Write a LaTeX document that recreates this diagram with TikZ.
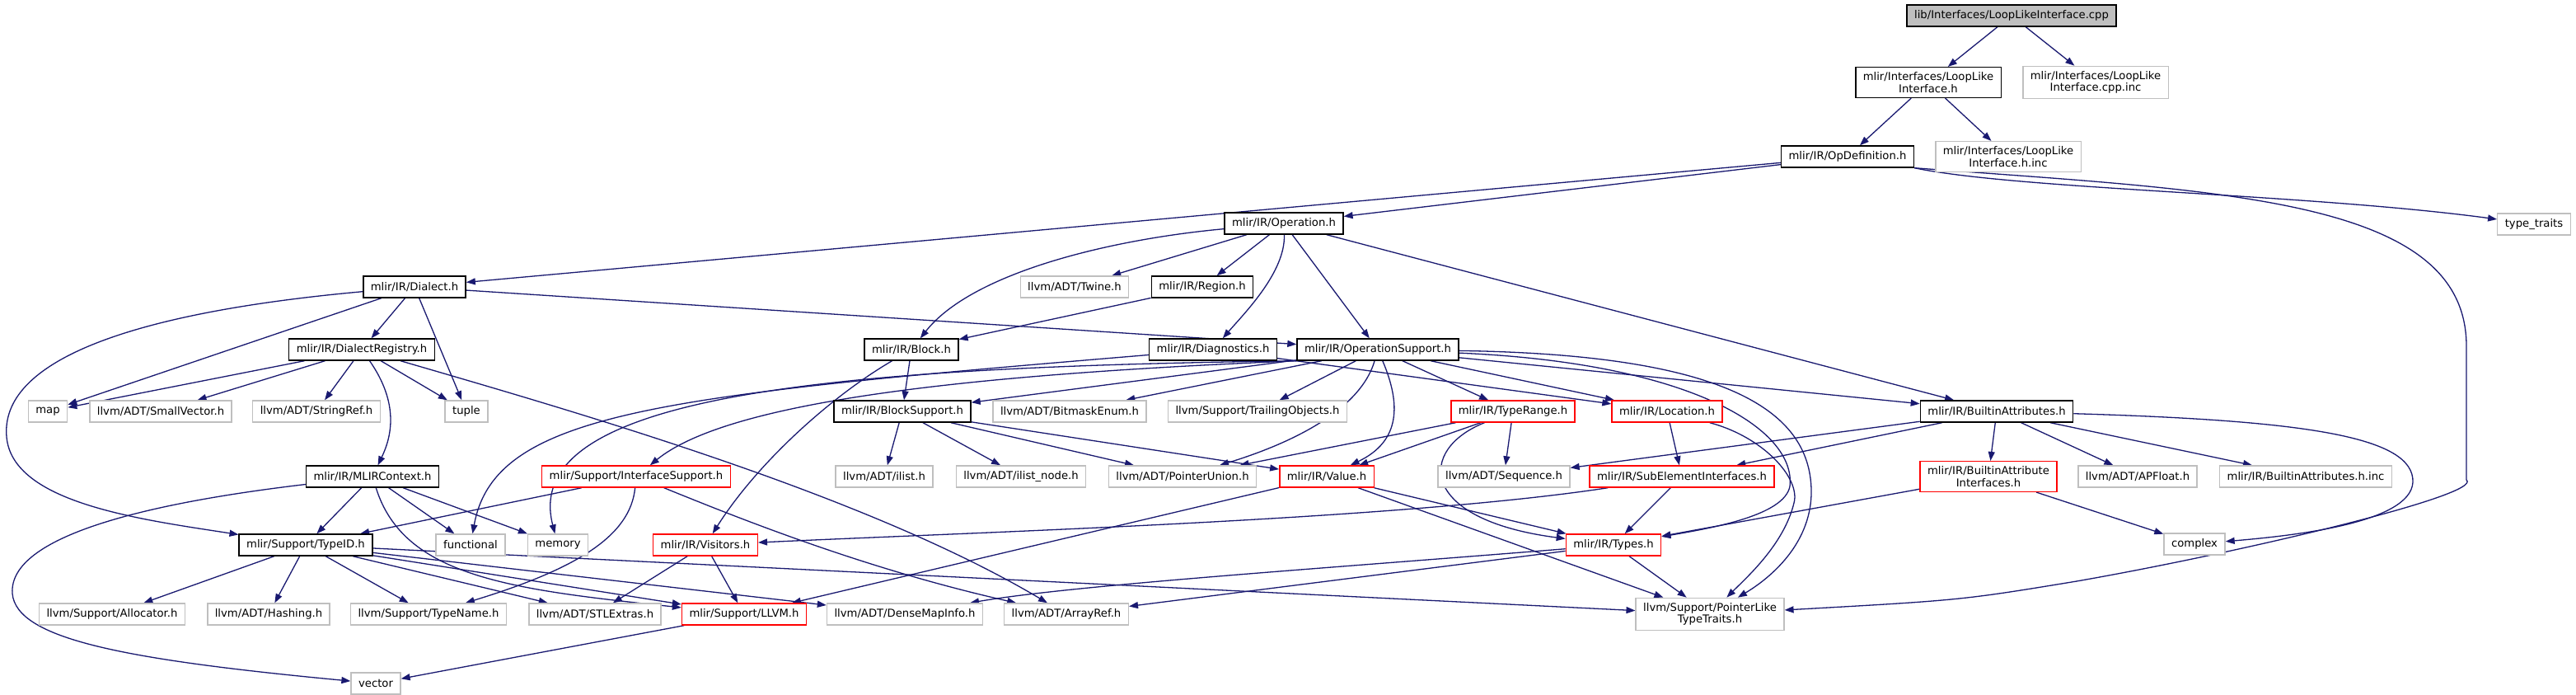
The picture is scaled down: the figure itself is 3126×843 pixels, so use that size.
\documentclass[tikz,border=0pt]{standalone}
\usepackage{fontspec}
\setmainfont{DejaVu Sans}
\usetikzlibrary{arrows.meta, positioning, backgrounds}
\definecolor{edgeblue}{HTML}{191970}
\definecolor{extgrey}{HTML}{BFBFBF}
\definecolor{rootfill}{HTML}{BFBFBF}
\definecolor{cutred}{HTML}{FF0000}
\newcommand{\filefont}{\fontsize{13.2pt}{14.5pt}\selectfont}

\begin{document}
\begin{tikzpicture}[x=1pt, y=-1pt,
  filebox/.style={rectangle, fill=white, line width=1.4pt, inner xsep=9pt, inner ysep=6pt,
        minimum height=26pt, align=center, font=\filefont},
  docfile/.style={filebox, draw=black},
  extfile/.style={filebox, draw=extgrey},
  cutfile/.style={filebox, draw=cutred},
  rootfile/.style={filebox, draw=black, fill=rootfill},
  incl/.style={draw=edgeblue, line width=1.3pt, -{Triangle[length=11pt,width=8pt]}}]
  \useasboundingbox (0,0) rectangle (3126,843);

  \node[rootfile] (cppfile) at (2441,19) {lib/Interfaces/LoopLikeInterface.cpp};
  \node[docfile] (looph) at (2340,100) {mlir/Interfaces/LoopLike\\Interface.h};
  \node[extfile] (loopcppinc) at (2543,100) {mlir/Interfaces/LoopLike\\Interface.cpp.inc};
  \node[docfile] (opdef) at (2242,190) {mlir/IR/OpDefinition.h};
  \node[extfile] (loophinc) at (2437,190) {mlir/Interfaces/LoopLike\\Interface.h.inc};
  \node[docfile] (operation) at (1558,271) {mlir/IR/Operation.h};
  \node[extfile] (typetraits) at (3075,272) {type\_traits};
  \node[docfile] (dialect) at (503,348) {mlir/IR/Dialect.h};
  \node[extfile] (twine) at (1304,348) {llvm/ADT/Twine.h};
  \node[docfile] (region) at (1459,348) {mlir/IR/Region.h};
  \node[docfile] (dialectreg) at (439,424) {mlir/IR/DialectRegistry.h};
  \node[docfile] (block) at (1106,424) {mlir/IR/Block.h};
  \node[docfile] (diag) at (1472,424) {mlir/IR/Diagnostics.h};
  \node[docfile] (opsupport) at (1672,424) {mlir/IR/OperationSupport.h};
  \node[extfile] (map) at (58,499) {map};
  \node[extfile] (smallvec) at (195,499) {llvm/ADT/SmallVector.h};
  \node[extfile] (stringref) at (384,499) {llvm/ADT/StringRef.h};
  \node[extfile] (tuple) at (566,499) {tuple};
  \node[docfile] (blocksup) at (1095,499) {mlir/IR/BlockSupport.h};
  \node[extfile] (bitmask) at (1298,499) {llvm/ADT/BitmaskEnum.h};
  \node[extfile] (trailing) at (1526,499) {llvm/Support/TrailingObjects.h};
  \node[cutfile] (typerange) at (1836,499) {mlir/IR/TypeRange.h};
  \node[cutfile] (location) at (2023,499) {mlir/IR/Location.h};
  \node[docfile] (battrs) at (2423,499) {mlir/IR/BuiltinAttributes.h};
  \node[docfile] (mlirctx) at (452,578) {mlir/IR/MLIRContext.h};
  \node[cutfile] (ifacesup) at (772,578) {mlir/Support/InterfaceSupport.h};
  \node[extfile] (ilist) at (1073,578) {llvm/ADT/ilist.h};
  \node[extfile] (ilistnode) at (1239,578) {llvm/ADT/ilist\_node.h};
  \node[extfile] (ptrunion) at (1435,578) {llvm/ADT/PointerUnion.h};
  \node[cutfile] (value) at (1610,578) {mlir/IR/Value.h};
  \node[extfile] (sequence) at (1825,578) {llvm/ADT/Sequence.h};
  \node[cutfile] (subelem) at (2041,578) {mlir/IR/SubElementInterfaces.h};
  \node[cutfile] (battriface) at (2413,578) {mlir/IR/BuiltinAttribute\\Interfaces.h};
  \node[extfile] (apfloat) at (2594,578) {llvm/ADT/APFloat.h};
  \node[extfile] (battrsinc) at (2798,578) {mlir/IR/BuiltinAttributes.h.inc};
  \node[docfile] (typeid) at (371,661) {mlir/Support/TypeID.h};
  \node[extfile] (functional) at (571,661) {functional};
  \node[extfile] (memory) at (677,661) {memory};
  \node[cutfile] (visitors) at (856,661) {mlir/IR/Visitors.h};
  \node[cutfile] (types) at (1958,661) {mlir/IR/Types.h};
  \node[extfile] (complex) at (2663,660) {complex};
  \node[extfile] (allocator) at (136,745) {llvm/Support/Allocator.h};
  \node[extfile] (hashing) at (326,745) {llvm/ADT/Hashing.h};
  \node[extfile] (typename) at (520,745) {llvm/Support/TypeName.h};
  \node[extfile] (stlextras) at (722,745) {llvm/ADT/STLExtras.h};
  \node[cutfile] (llvm) at (903,745) {mlir/Support/LLVM.h};
  \node[extfile] (densemap) at (1098,745) {llvm/ADT/DenseMapInfo.h};
  \node[extfile] (arrayref) at (1294,745) {llvm/ADT/ArrayRef.h};
  \node[extfile] (ptrlike) at (2075,745) {llvm/Support/PointerLike\\TypeTraits.h};
  \node[extfile] (vector) at (456,829) {vector};

  \begin{scope}[on background layer]
    \fill[white] (0,0) rectangle (3126,843);
    \draw[incl] (cppfile) -- (looph);
    \draw[incl] (cppfile) -- (loopcppinc);
    \draw[incl] (looph) -- (opdef);
    \draw[incl] (looph) -- (loophinc);
    \draw[incl] (opdef) -- (operation);
    \draw[incl] (opdef) -- (dialect);
    \draw[incl] (opdef.south east) .. controls (2450,230) and (2800,235) .. (typetraits);
    \draw[incl] (opdef.south east) .. controls (2700,232) and (2993,240) .. (2993,420) -- (2993,582)
                .. controls (3015,600) and (2720,670) .. (2520,705) .. controls (2380,728) .. (ptrlike);
    \draw[incl] (dialect) .. controls (150,380) and (0,440) .. (8,530)
                .. controls (15,610) and (170,630) .. (typeid);
    \draw[incl] (dialect) -- (map);
    \draw[incl] (dialect) -- (dialectreg);
    \draw[incl] (dialect) -- (tuple);
    \draw[incl] (dialect) -- (opsupport);
    \draw[incl] (operation) .. controls (1350,290) and (1180,330) .. (block);
    \draw[incl] (operation) -- (twine);
    \draw[incl] (operation) -- (region);
    \draw[incl] (operation) .. controls (1560,330) and (1510,380) .. (diag);
    \draw[incl] (operation) -- (opsupport);
    \draw[incl] (operation) -- (battrs);
    \draw[incl] (region) -- (block);
    \draw[incl] (dialectreg) -- (map);
    \draw[incl] (dialectreg) -- (smallvec);
    \draw[incl] (dialectreg) -- (stringref);
    \draw[incl] (dialectreg) -- (tuple);
    \draw[incl] (dialectreg) .. controls (485,490) and (475,530) .. (mlirctx);
    \draw[incl] (dialectreg) .. controls (700,500) and (1050,600) .. (arrayref);
    \draw[incl] (block) -- (blocksup);
    \draw[incl] (block) .. controls (1010,480) and (920,560) .. (visitors);
    \draw[incl] (diag) .. controls (800,480) and (600,500) .. (functional);
    \draw[incl] (diag) -- (location);
    \draw[incl] (opsupport) -- (blocksup);
    \draw[incl] (opsupport) -- (bitmask);
    \draw[incl] (opsupport) -- (trailing);
    \draw[incl] (opsupport) -- (typerange);
    \draw[incl] (opsupport) -- (location);
    \draw[incl] (opsupport) -- (battrs);
    \draw[incl] (opsupport.south west) .. controls (1000,445) and (630,480) .. (memory);
    \draw[incl] (opsupport.south west) .. controls (1150,455) and (880,490) .. (ifacesup);
    \draw[incl] (opsupport) .. controls (1650,500) and (1560,540) .. (ptrunion);
    \draw[incl] (opsupport) .. controls (1700,490) and (1700,535) .. (value);
    \draw[incl] (opsupport) .. controls (2050,440) and (2180,520) .. (2172,590)
                .. controls (2165,625) and (2080,640) .. (types);
    \draw[incl] (opsupport) .. controls (2100,430) and (2200,500) .. (2198,600)
                .. controls (2196,660) and (2150,700) .. (ptrlike);
    \draw[incl] (blocksup) -- (ilist);
    \draw[incl] (blocksup) -- (ilistnode);
    \draw[incl] (blocksup) -- (ptrunion);
    \draw[incl] (blocksup) -- (value);
    \draw[incl] (typerange) -- (ptrunion);
    \draw[incl] (typerange) -- (value);
    \draw[incl] (typerange) -- (sequence);
    \draw[incl] (typerange) .. controls (1720,545) and (1720,630) .. (types);
    \draw[incl] (location) -- (subelem);
    \draw[incl] (location) .. controls (2140,530) and (2185,580) .. (2177,610)
                .. controls (2165,660) and (2120,700) .. (ptrlike);
    \draw[incl] (battrs) -- (sequence);
    \draw[incl] (battrs) -- (subelem);
    \draw[incl] (battrs) -- (battriface);
    \draw[incl] (battrs) -- (apfloat);
    \draw[incl] (battrs) -- (battrsinc);
    \draw[incl] (battrs) .. controls (2800,510) and (2930,530) .. (2928,585)
                .. controls (2925,635) and (2780,650) .. (complex);
    \draw[incl] (mlirctx) .. controls (180,610) and (10,650) .. (15,720)
                .. controls (20,775) and (150,800) .. (vector);
    \draw[incl] (mlirctx) -- (typeid);
    \draw[incl] (mlirctx) -- (functional);
    \draw[incl] (mlirctx) -- (memory);
    \draw[incl] (mlirctx) .. controls (490,700) and (620,715) .. (llvm);
    \draw[incl] (ifacesup) -- (typeid);
    \draw[incl] (ifacesup) .. controls (765,650) and (700,690) .. (typename);
    \draw[incl] (ifacesup) .. controls (900,630) and (1050,690) .. (arrayref);
    \draw[incl] (value) -- (types);
    \draw[incl] (value) -- (ptrlike);
    \draw[incl] (value) -- (llvm);
    \draw[incl] (subelem) .. controls (1700,630) and (1200,645) .. (visitors);
    \draw[incl] (subelem) -- (types);
    \draw[incl] (battriface) -- (types);
    \draw[incl] (battriface) -- (complex);
    \draw[incl] (typeid) -- (allocator);
    \draw[incl] (typeid) -- (hashing);
    \draw[incl] (typeid) -- (typename);
    \draw[incl] (typeid) -- (stlextras);
    \draw[incl] (typeid) -- (llvm);
    \draw[incl] (typeid) -- (densemap);
    \draw[incl] (typeid) -- (ptrlike);
    \draw[incl] (visitors) -- (stlextras);
    \draw[incl] (visitors) -- (llvm);
    \draw[incl] (types) .. controls (1600,690) and (1300,710) .. (densemap);
    \draw[incl] (types) -- (arrayref);
    \draw[incl] (types) -- (ptrlike);
    \draw[incl] (llvm) -- (vector);
  \end{scope}
\end{tikzpicture}
\end{document}
